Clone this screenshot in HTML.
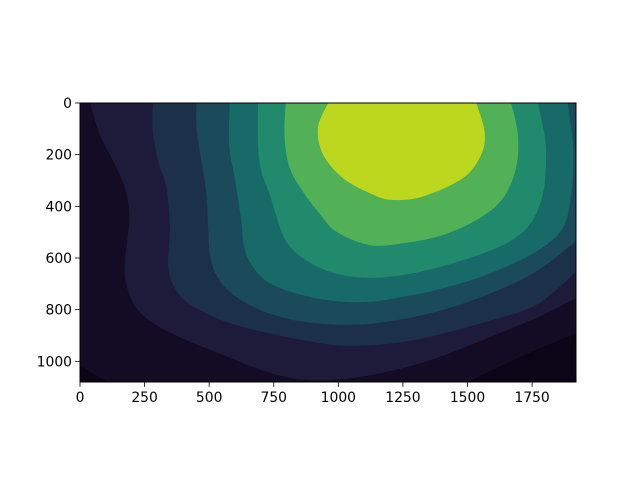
<!DOCTYPE html>
<html><head><meta charset="utf-8"><style>
html,body{margin:0;padding:0;background:#fff;}
svg{display:block;font-family:"DejaVu Sans","Liberation Sans",sans-serif;}
</style></head><body>
<svg id="chart" width="640" height="480" viewBox="0 0 640 480" xmlns="http://www.w3.org/2000/svg">
<defs><clipPath id="clip"><rect x="80" y="103" width="496" height="279"/></clipPath></defs>
<g id="plot" clip-path="url(#clip)"></g>
<rect x="80" y="103" width="496" height="279" fill="none" stroke="#000" stroke-width="1"/>
<g id="axes"></g>
</svg>
<script>
const xTicks=[0,250,500,750,1000,1250,1500,1750];
const yTicks=[0,200,400,600,800,1000];
const levelColors=["#0c0417","#140b24","#1e1b3a","#1d3049","#1b4a5a","#176a68","#218a6c","#52b056","#bdd71e"];
const cornerLeft=[[0,1015],[55,1050],[110,1080]];
const cornerRight=[[1501,1080],[1700,985],[1920,892]];
const level2=[[39,0],[77,123],[129,226],[174,330],[191,446],[174,614],[180,705],[219,795],[296,860],[412,918],[541,970],[670,1022],[799,1061],[928,1074],[1057,1064],[1186,1041],[1314,1009],[1443,964],[1637,886],[1791,821],[1920,755]];
const level3=[[283,0],[281,97],[303,226],[335,330],[348,485],[341,627],[361,705],[412,770],[503,821],[606,860],[735,892],[863,918],[992,938],[1121,938],[1250,925],[1379,899],[1572,847],[1765,782],[1920,654]];
const level4=[[451,0],[451,97],[470,226],[490,356],[496,485],[503,588],[528,666],[580,731],[683,795],[799,834],[928,854],[1057,858],[1186,847],[1379,808],[1572,744],[1765,653],[1920,534]];
const level5=[[580,0],[577,162],[599,291],[625,459],[634,550],[664,627],[735,698],[863,744],[992,767],[1121,770],[1250,750],[1379,724],[1572,666],[1765,576],[1868,485],[1901,356],[1910,200],[1901,97],[1888,0]];
const level6=[[689,0],[689,162],[702,265],[735,356],[767,459],[799,537],[863,601],[966,653],[1095,676],[1250,666],[1443,621],[1637,550],[1740,472],[1791,356],[1804,226],[1798,123],[1772,0]];
const level7=[[796,0],[792,136],[812,252],[863,343],[921,420],[992,498],[1121,550],[1250,543],[1405,511],[1546,446],[1637,369],[1688,252],[1695,123],[1669,0]];
const level8=[[960,0],[921,97],[941,200],[1018,291],[1121,349],[1205,375],[1327,362],[1482,291],[1553,200],[1566,110],[1534,0]];
const levels=[level2,level3,level4,level5,level6,level7,level8];
const NS="http://www.w3.org/2000/svg";
function sx(v){return 80+v*496/1920;}
function sy(v){return 103+v*279/1080;}
const plot=document.getElementById('plot');
const axes=document.getElementById('axes');
function edgeOut(p){
  const [x,y]=p;
  if(y<=103.5) return [x,80];
  if(y>=381.5) return [x,405];
  if(x>=575.5) return [600,y];
  return [55,y];
}
function curvePath(pts){
  const p=pts.map(([x,y])=>[sx(x),sy(y)]);
  const n=p.length;
  let d='M'+p[0][0].toFixed(2)+','+p[0][1].toFixed(2);
  for(let i=0;i<n-1;i++){
    const p0=p[Math.max(i-1,0)],p1=p[i],p2=p[i+1],p3=p[Math.min(i+2,n-1)];
    const c1=[p1[0]+(p2[0]-p0[0])/6,p1[1]+(p2[1]-p0[1])/6];
    const c2=[p2[0]-(p3[0]-p1[0])/6,p2[1]-(p3[1]-p1[1])/6];
    d+=' C'+c1.map(v=>v.toFixed(2)).join(',')+' '+c2.map(v=>v.toFixed(2)).join(',')+' '+p2[0].toFixed(2)+','+p2[1].toFixed(2);
  }
  const a=edgeOut(p[n-1]),b=edgeOut(p[0]);
  d+=' L'+a.join(',');
  if(a[0]===600 && b[1]===80) d+=' L600,80';
  if(a[1]===405 && b[0]===55) d+=' L55,405';
  if(a[0]===600 && b[1]===405) d+=' L600,405';
  d+=' L'+b.join(',')+'Z';
  return d;
}
function add(d,color,name){
  const path=document.createElementNS(NS,'path');
  path.setAttribute('d',d);
  path.setAttribute('fill',color);
  
  
  plot.appendChild(path);
}
const bg=document.createElementNS(NS,'rect');
bg.setAttribute('x',80);bg.setAttribute('y',103);bg.setAttribute('width',496);bg.setAttribute('height',279);
bg.setAttribute('fill',levelColors[1]);


plot.appendChild(bg);
add(curvePath(cornerLeft),levelColors[0],'contour-level-0-left');
add(curvePath(cornerRight),levelColors[0],'contour-level-0-right');
levels.forEach((pts,i)=>{
  add(curvePath(pts),levelColors[i+2],'contour-level-'+(i+2));
});
xTicks.forEach(v=>{
  const l=document.createElementNS(NS,'line');
  l.setAttribute('x1',sx(v));l.setAttribute('x2',sx(v));l.setAttribute('y1',382);l.setAttribute('y2',386.9);
  l.setAttribute('stroke','#000');l.setAttribute('stroke-width','0.8');
  
  
  axes.appendChild(l);
  const t=document.createElementNS(NS,'text');
  t.setAttribute('x',sx(v));t.setAttribute('y',402);t.setAttribute('text-anchor','middle');t.setAttribute('font-size','13.9');
  t.textContent=v;
  
  
  axes.appendChild(t);
});
yTicks.forEach(v=>{
  const l=document.createElementNS(NS,'line');
  l.setAttribute('x1',75.1);l.setAttribute('x2',80);l.setAttribute('y1',sy(v));l.setAttribute('y2',sy(v));
  l.setAttribute('stroke','#000');l.setAttribute('stroke-width','0.8');
  
  
  axes.appendChild(l);
  const t=document.createElementNS(NS,'text');
  t.setAttribute('x',72);t.setAttribute('y',sy(v)+5);t.setAttribute('text-anchor','end');t.setAttribute('font-size','13.9');
  t.textContent=v;
  
  
  axes.appendChild(t);
});
</script>
</body></html>
